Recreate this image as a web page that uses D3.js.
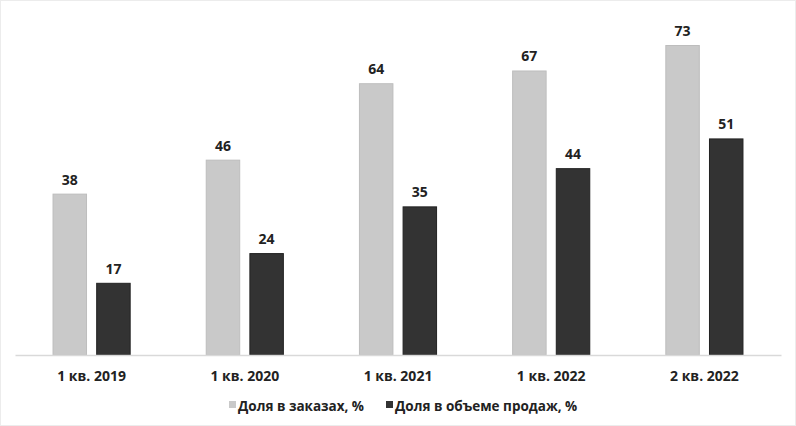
<!DOCTYPE html>
<html>
<head>
<meta charset="utf-8">
<script src="https://cdn.jsdelivr.net/npm/d3@7"></script>
<style>
  html, body { margin: 0; padding: 0; background: #fff; }
  svg { display: block; }
</style>
</head>
<body>
<svg id="chart" width="796" height="426"></svg>
<script>
const categories = ["1 кв. 2019", "1 кв. 2020", "1 кв. 2021", "1 кв. 2022", "2 кв. 2022"];
const seriesNames = ["Доля в заказах, %", "Доля в объеме продаж, %"];
const ordersShare = [38, 46, 64, 67, 73];
const salesShare = [17, 24, 35, 44, 51];
const seriesColors = ["#c9c9c9", "#333333"];
const seriesStroke = ["#bdbdbd", "#222222"];

const W = 796, H = 426;
const svg = d3.select("#chart");
const font = "'Open Sans', 'DejaVu Sans', sans-serif";

svg.append("rect").attr("x", 0.5).attr("y", 0.5).attr("width", W - 1).attr("height", H - 1)
  .attr("fill", "#fff").attr("stroke", "#ececec");

const x0 = d3.scaleBand().domain(categories).range([15, 781]).paddingInner(0.49).paddingOuter(0.245);
const x1 = d3.scaleBand().domain([0, 1]).range([0, x0.bandwidth()]).paddingInner(0.21);
const y = d3.scaleLinear().domain([0, 73]).range([355, 45]);

const series = [ordersShare, salesShare];

const groups = svg.append("g").selectAll("g").data(categories).join("g")
  .attr("transform", d => `translate(${x0(d)},0)`);

groups.each(function(cat, i) {
  const g = d3.select(this);
  series.forEach((vals, s) => {
    const v = vals[i];
    g.append("rect")
      .attr("x", x1(s) + 0.5)
      .attr("y", y(v) + 0.5)
      .attr("width", x1.bandwidth() - 1)
      .attr("height", y(0) - y(v) - 0.5)
      .attr("fill", seriesColors[s])
      .attr("stroke", seriesStroke[s])
      .attr("stroke-width", 1);
    g.append("text")
      .attr("x", x1(s) + x1.bandwidth() / 2)
      .attr("y", y(v) - 9)
      .attr("text-anchor", "middle")
      .attr("font-family", font)
      .attr("font-weight", 700)
      .attr("font-size", 14)
      .attr("fill", "#222")
      .text(v);
  });
});

// x axis
const xAxis = d3.axisBottom(x0).tickSize(0).tickPadding(16);
const ax = svg.append("g").attr("transform", `translate(0,${y(0)})`).call(xAxis);
ax.select(".domain").attr("stroke", "#d9d9d9").attr("stroke-width", 1.5);
ax.selectAll("text")
  .attr("font-family", font)
  .attr("font-weight", 700)
  .attr("font-size", 14)
  .attr("fill", "#222");

// legend
const legendItems = [{x: 229, name: seriesNames[0], c: seriesColors[0]}, {x: 386, name: seriesNames[1], c: seriesColors[1]}];
const lg = svg.append("g");
legendItems.forEach((it, i) => {
  lg.append("rect").attr("x", it.x).attr("y", 401).attr("width", 7).attr("height", 7).attr("fill", it.c);
  lg.append("text").attr("x", it.x + 9).attr("y", 411)
    .attr("font-family", font).attr("font-weight", 700).attr("font-size", 13.5)
    .attr("fill", "#222").text(it.name);
});
</script>
</body>
</html>
